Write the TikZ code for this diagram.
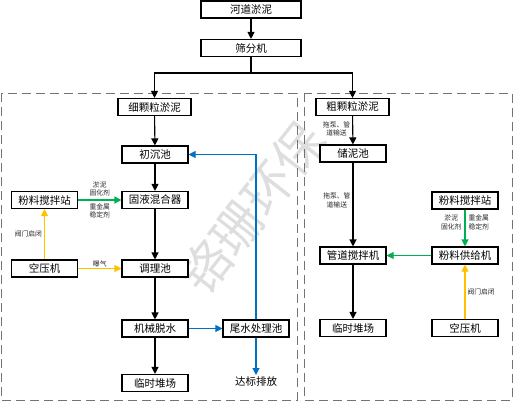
\documentclass[tikz,border=0pt]{standalone}
\usepackage{fontspec}
\setmainfont{Noto Sans CJK SC}
\usepackage{tikz}
\usetikzlibrary{arrows.meta}
\definecolor{flowgreen}{RGB}{0,176,80}
\definecolor{flowyellow}{RGB}{255,192,0}
\definecolor{flowblue}{RGB}{0,112,192}

\begin{document}
\begin{tikzpicture}[x=1pt, y=-1pt,
        box/.style={draw, line width=1.1pt, fill=white, minimum width=66pt, minimum height=17pt, inner sep=1pt, font=\fontsize{10.5}{12}\selectfont},
        note/.style={font=\fontsize{6.8}{8.4}\selectfont, align=center, inner sep=1pt, text=black!85},
        flow/.style={-{Triangle[length=7pt, width=7pt]}, line width=1.1pt},
        frame/.style={draw=black!55, line width=0.9pt, dash pattern=on 9pt off 5pt},
        watermark/.style={text=black!13, font=\fontsize{50}{50}\selectfont, rotate=52}]
        \useasboundingbox (0,0) rectangle (514,402);

        \node[watermark] at (252, 208)   (wm) {铬珊环保};

        \draw[frame] (1, 93) rectangle (297, 400);
        \draw[frame] (304, 93) rectangle (512, 400);

        \node[box, minimum width=100pt] at (251, 9.5)   (mud) {河道淤泥};
        \node[box, minimum width=100pt] at (251, 48)   (screen) {筛分机};
        \coordinate (split) at (251, 73);
        \node[box, minimum width=73pt] at (154.5, 107)   (fine) {细颗粒淤泥};
        \node[box, minimum width=73pt] at (352.5, 107)   (coarse) {粗颗粒淤泥};

        \node[box] at (155, 154.5)   (settle) {初沉池};
        \node[box] at (155, 200)   (mixer) {固液混合器};
        \node[box] at (155, 268.5)   (cond) {调理池};
        \node[box] at (155, 328.5)   (dewater) {机械脱水};
        \node[box] at (155, 383)   (yard_l) {临时堆场};
        \node[box] at (44.5, 200)   (powder_l) {粉料搅拌站};
        \node[box] at (44.5, 268.5)   (air_l) {空压机};
        \node[box] at (256, 328.5)   (tail) {尾水处理池};
        \node[inner sep=1pt, anchor=north, font=\fontsize{10.5}{12}\selectfont] at (256, 375)   (out) {达标排放};

        \node[box] at (353, 153.5)   (store) {储泥池};
        \node[box] at (353, 255.5)   (pipe) {管道搅拌机};
        \node[box] at (353, 328)   (yard_r) {临时堆场};
        \node[box] at (465, 200.5)   (powder_r) {粉料搅拌站};
        \node[box] at (465, 255.5)   (feeder) {粉料供给机};
        \node[box] at (465, 328)   (air_r) {空压机};

        \draw [flow] (mud) -- (screen);
        \draw [line width=1.1pt] (screen) -- (split);
        \draw [flow] (split) -| (fine);
        \draw [flow] (split) -| (coarse);

        \draw [flow] (fine) -- (settle);
        \draw [flow] (settle) -- (mixer);
        \draw [flow] (mixer) -- (cond);
        \draw [flow] (cond) -- (dewater);
        \draw [flow] (dewater) -- (yard_l);
        \draw [flow, flowgreen] (powder_l) -- node[note, above=2pt] {淤泥\\固化剂} node[note, below=2pt] {重金属\\稳定剂} (mixer);
        \draw [flow, flowyellow] (air_l) -- node[note, left=1pt] {阀门启闭} (powder_l);
        \draw [flow, flowyellow] (air_l) -- node[note, above=0pt] {曝气} (cond);
        \draw [flow, flowblue] (dewater) -- (tail);
        \draw [flow, flowblue] (tail.north) |- (settle);
        \draw [flow, flowblue] (tail) -- (out);

        \draw [flow] (coarse) -- node[note, left=1pt, pos=0.45] {拖泵、管\\道输送} (store);
        \draw [flow] (store) -- node[note, left=1pt, pos=0.45] {拖泵、管\\道输送} (pipe);
        \draw [flow] (pipe) -- (yard_r);
        \draw [flow, flowgreen] (powder_r) -- node[note, left=2pt, pos=0.35] {淤泥\\固化剂} node[note, right=2pt, pos=0.35] {重金属\\稳定剂} (feeder);
        \draw [flow, flowgreen] (feeder) -- (pipe);
        \draw [flow, flowyellow] (air_r) -- node[note, right=1pt] {阀门启闭} (feeder);
    \end{tikzpicture}
\end{document}
